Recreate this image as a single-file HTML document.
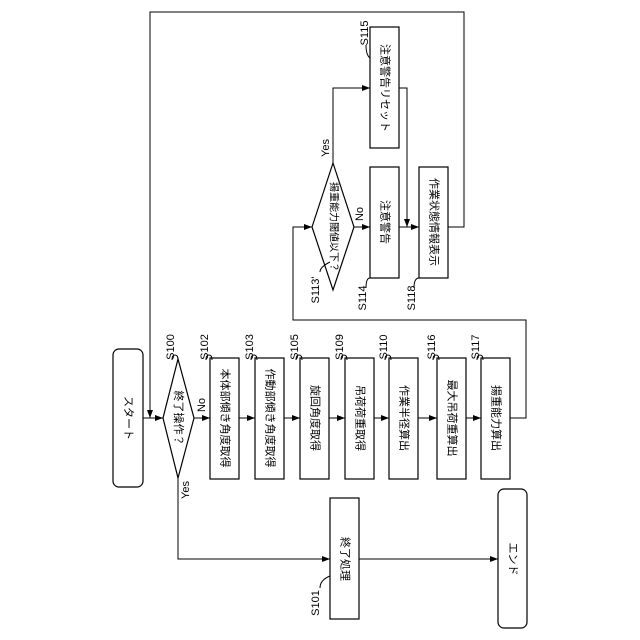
<!DOCTYPE html>
<html><head><meta charset="utf-8"><style>
html,body{margin:0;padding:0;background:#fff;}
svg{display:block;}
text{font-family:"Liberation Sans","Noto Sans CJK JP",sans-serif;fill:#000;}
.b{font-size:11px;}
.l{font-size:11px;}
</style></head><body>
<svg width="640" height="640" viewBox="0 0 640 640" xmlns="http://www.w3.org/2000/svg">
<defs><marker id="a" markerWidth="8" markerHeight="6" refX="8" refY="3" orient="auto" markerUnits="userSpaceOnUse"><path d="M0,0 L8,3 L0,6 z" fill="#000"/></marker></defs>
<g fill="none" stroke="#000" stroke-width="1.2">
<rect x="113" y="349" width="30" height="138" rx="6"/>
<polygon points="163,418 178,359 194,418 178,478"/>
<rect x="210" y="358" width="29" height="121"/>
<rect x="255" y="358" width="29" height="121"/>
<rect x="300" y="358" width="29" height="121"/>
<rect x="345" y="358" width="29" height="121"/>
<rect x="389" y="358" width="29" height="121"/>
<rect x="437" y="358" width="29" height="121"/>
<rect x="481" y="358" width="29" height="121"/>
<polygon points="312,227 333,163 354,227 333,290"/>
<rect x="370" y="167" width="29" height="111"/>
<rect x="370" y="27" width="29" height="121"/>
<rect x="419" y="167" width="29" height="111"/>
<rect x="330" y="498" width="29" height="121"/>
<rect x="498" y="489" width="29" height="139" rx="6"/>
</g>
<g fill="none" stroke="#000" stroke-width="1">
<line x1="143" y1="418" x2="163" y2="418" marker-end="url(#a)"/>
<line x1="194" y1="418" x2="210" y2="418" marker-end="url(#a)"/>
<line x1="239" y1="418" x2="255" y2="418" marker-end="url(#a)"/>
<line x1="284" y1="418" x2="300" y2="418" marker-end="url(#a)"/>
<line x1="329" y1="418" x2="345" y2="418" marker-end="url(#a)"/>
<line x1="374" y1="418" x2="389" y2="418" marker-end="url(#a)"/>
<line x1="418" y1="418" x2="437" y2="418" marker-end="url(#a)"/>
<line x1="466" y1="418" x2="481" y2="418" marker-end="url(#a)"/>
<polyline points="510,418 526,418 526,320 293,320 293,227 312,227" marker-end="url(#a)"/>
<line x1="354" y1="227" x2="370" y2="227" marker-end="url(#a)"/>
<polyline points="333,163 333,88 370,88" marker-end="url(#a)"/>
<polyline points="399,88 407,88 407,227" marker-end="url(#a)"/>
<line x1="399" y1="227" x2="419" y2="227" marker-end="url(#a)"/>
<polyline points="448,227 464,227 464,12 150,12 150,418" marker-end="url(#a)"/>
<polyline points="178,478 178,559 330,559" marker-end="url(#a)"/>
<line x1="359" y1="559" x2="498" y2="559" marker-end="url(#a)"/>
<path d="M172,360 q0,-5 3,-5 q3,0 3,5 M206,360 q0,-5 3,-5 q3,0 3,5 M251,360 q0,-5 3,-5 q3,0 3,5 M296,360 q0,-5 3,-5 q3,0 3,5 M341,360 q0,-5 3,-5 q3,0 3,5 M385,360 q0,-5 3,-5 q3,0 3,5 M433,360 q0,-5 3,-5 q3,0 3,5 M477,360 q0,-5 3,-5 q3,0 3,5"/>
<path d="M366,45 q0,10 4,13 M320,272 q0,-5 10,-10 M366,288 q0,-10 4,-10 M414,288 q0,-10 5,-10 M320,588 q0,-8 10,-12"/>
</g>
<g class="b" text-anchor="middle" dominant-baseline="central">
<text transform="translate(128,418) rotate(90)">スタート</text>
<text transform="translate(178,418) rotate(90)">終了操作？</text>
<text transform="translate(224.5,418) rotate(90)">本体部傾き角度取得</text>
<text transform="translate(269.5,418) rotate(90)">作動部傾き角度取得</text>
<text transform="translate(314.5,418) rotate(90)">旋回角度取得</text>
<text transform="translate(359.5,418) rotate(90)">吊荷荷重取得</text>
<text transform="translate(403.5,418) rotate(90)">作業半径算出</text>
<text transform="translate(451.5,418) rotate(90)">最大吊荷重算出</text>
<text transform="translate(495.5,418) rotate(90)">揚重能力算出</text>
<text transform="translate(333,227) rotate(90)" style="font-size:10px">揚重能力閾値以下？</text>
<text transform="translate(384.5,222) rotate(90)">注意警告</text>
<text transform="translate(384.5,88) rotate(90)">注意警告リセット</text>
<text transform="translate(433.5,222) rotate(90)">作業状態情報表示</text>
<text transform="translate(344.5,559) rotate(90)">終了処理</text>
<text transform="translate(512.5,559) rotate(90)">エンド</text>
</g>
<g class="l" text-anchor="middle" dominant-baseline="central">
<text transform="translate(171,347) rotate(-90)">S100</text>
<text transform="translate(205,347) rotate(-90)">S102</text>
<text transform="translate(250,347) rotate(-90)">S103</text>
<text transform="translate(295,347) rotate(-90)">S105</text>
<text transform="translate(340,347) rotate(-90)">S109</text>
<text transform="translate(384,347) rotate(-90)">S110</text>
<text transform="translate(432,347) rotate(-90)">S116</text>
<text transform="translate(476,347) rotate(-90)">S117</text>
<text transform="translate(365,33) rotate(-90)">S115</text>
<text transform="translate(316,290) rotate(-90)">S113'</text>
<text transform="translate(363,298) rotate(-90)">S114</text>
<text transform="translate(412,298) rotate(-90)">S118</text>
<text transform="translate(316,603) rotate(-90)">S101</text>
<text transform="translate(186,490) rotate(-90)">Yes</text>
<text transform="translate(202,405) rotate(-90)">No</text>
<text transform="translate(326,148) rotate(-90)">Yes</text>
<text transform="translate(360,214) rotate(-90)">No</text>
</g>
</svg>
</body></html>
